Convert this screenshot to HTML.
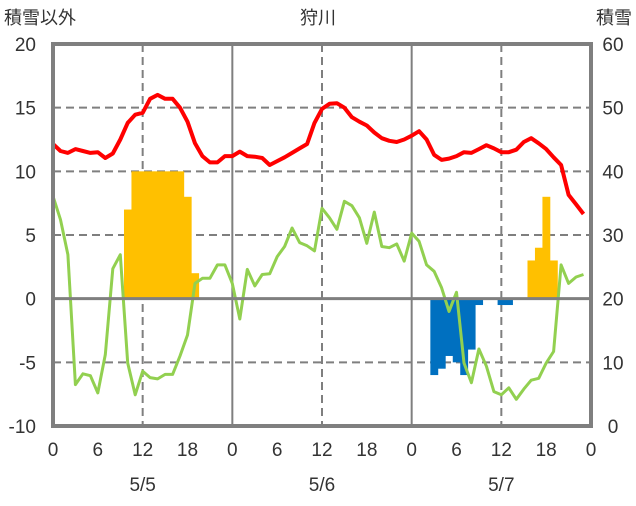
<!DOCTYPE html>
<html><head><meta charset="utf-8"><style>
body{margin:0;background:#fff}
svg text{font-family:"Liberation Sans","Noto Sans CJK JP",sans-serif;fill:#333}
</style></head><body>
<svg id="c" width="636" height="501" viewBox="0 0 636 501">
<text x="4" y="24" font-size="18">積雪以外</text>
<text x="318" y="24" font-size="18" text-anchor="middle">狩川</text>
<text x="632" y="24" font-size="18" text-anchor="end">積雪</text>
<g id="grid"></g><g id="bars"></g><g id="lines"></g><g id="axes"></g>
</svg>
<script>
const leftTicks=[20,15,10,5,0,-5,-10];
const rightTicks=[60,50,40,30,20,10,0];
const xTickLabels=['0','6','12','18','0','6','12','18','0','6','12','18','0'];
const dates=['5/5','5/6','5/7'];
const barHours=[10,11,12,13,14,15,16,17,18,19,51,52,53,54,55,56,57,60,61,64,65,66,67];
const barValues=[7,10,10,10,10,10,10,10,8,2,-6,-5.5,-4.5,-5,-6,-4,-0.5,-0.5,-0.5,3,4,8,3];
const redSeries=[12.15,11.6,11.45,11.75,11.6,11.45,11.5,11.05,11.4,12.5,13.8,14.45,14.6,15.7,16.0,15.7,15.7,15.0,13.9,12.2,11.2,10.7,10.7,11.2,
11.2,11.55,11.2,11.15,11.05,10.5,10.8,11.1,11.45,11.8,12.15,13.8,14.9,15.3,15.35,15.0,14.25,13.9,13.6,13.05,12.6,12.4,12.3,12.5,
12.8,13.15,12.5,11.3,10.9,11.0,11.2,11.5,11.45,11.75,12.05,11.8,11.5,11.5,11.7,12.3,12.6,12.2,11.75,11.1,10.5,8.15,7.4,6.65];
const greenSeries=[8.05,6.2,3.45,-6.75,-5.9,-6.05,-7.4,-4.4,2.35,3.45,-5.05,-7.55,-5.7,-6.2,-6.3,-5.95,-5.95,-4.5,-2.85,1.2,1.6,1.6,2.65,2.65,
1.2,-1.6,2.3,1.0,1.9,1.95,3.3,4.1,5.55,4.4,4.15,3.75,7.1,6.35,5.45,7.65,7.3,6.35,4.35,6.8,4.1,4.0,4.3,2.95,
5.15,4.5,2.65,2.15,0.85,-1.0,0.5,-5.05,-6.6,-3.95,-5.3,-7.3,-7.55,-7.0,-7.9,-7.1,-6.4,-6.25,-5.05,-4.15,2.65,1.2,1.7,1.9];
const X0=53,X1=591,Y0=44,Y1=426;
const xs=h=>X0+(X1-X0)*h/72;
const ys=v=>Y1-(Y1-Y0)*(v+10)/30;
const NS='http://www.w3.org/2000/svg';
function mk(p,t,a){const e=document.createElementNS(NS,t);for(const k in a)e.setAttribute(k,a[k]);p.appendChild(e);return e;}
const g=document.getElementById('grid'),b=document.getElementById('bars'),l=document.getElementById('lines'),ax=document.getElementById('axes');
[15,10,5,-5].forEach(v=>{const e=mk(g,'line',{x1:X0,x2:X1,y1:ys(v),y2:ys(v),stroke:'#7f7f7f','stroke-width':2,'stroke-dasharray':'8,5'});

});
[12,36,60].forEach(h=>{const e=mk(g,'line',{x1:xs(h),x2:xs(h),y1:Y0,y2:Y1,stroke:'#7f7f7f','stroke-width':2,'stroke-dasharray':'8,5'});

});
[24,48].forEach(h=>{const e=mk(g,'line',{x1:xs(h),x2:xs(h),y1:Y0,y2:Y1,stroke:'#7f7f7f','stroke-width':2});

});
const bw=(X1-X0)/72;
barHours.forEach((h,i)=>{const v=barValues[i];const y=Math.min(ys(v),ys(0));
const e=mk(b,'rect',{x:xs(h)-bw/2,y:y,width:bw+0.4,height:Math.abs(ys(v)-ys(0)),fill:v>=0?'#ffc000':'#0070c0'});

});
const z=mk(ax,'line',{x1:X0,x2:X1,y1:ys(0),y2:ys(0),stroke:'#7f7f7f','stroke-width':3});


function path(arr,col,name){const d=arr.map((v,i)=>(i?'L':'M')+xs(i).toFixed(1)+','+ys(v).toFixed(1)).join('');
const e=mk(l,'path',{d:d,fill:'none',stroke:col,'stroke-width':col=='#ff0000'?4:3,'stroke-linejoin':'round'});

}
path(greenSeries,'#92d050','green-series-line');
path(redSeries,'#ff0000','red-series-line');
const fr=mk(ax,'rect',{x:X0,y:Y0,width:X1-X0,height:Y1-Y0,fill:'none',stroke:'#7f7f7f','stroke-width':4});


leftTicks.forEach(v=>{const t=mk(ax,'text',{x:36,y:ys(v)+7,'font-size':19,'text-anchor':'end'});t.textContent=v;

});
rightTicks.forEach((v,i)=>{const t=mk(ax,'text',{x:613,y:ys(leftTicks[i])+7,'font-size':19,'text-anchor':'middle'});t.textContent=v;

});
xTickLabels.forEach((s,i)=>{const t=mk(ax,'text',{x:xs(i*6),y:456,'font-size':19,'text-anchor':'middle'});t.textContent=s;

});
dates.forEach((s,i)=>{const t=mk(ax,'text',{x:xs(12+24*i),y:491,'font-size':19,'text-anchor':'middle'});t.textContent=s;

});
</script>
</body></html>
